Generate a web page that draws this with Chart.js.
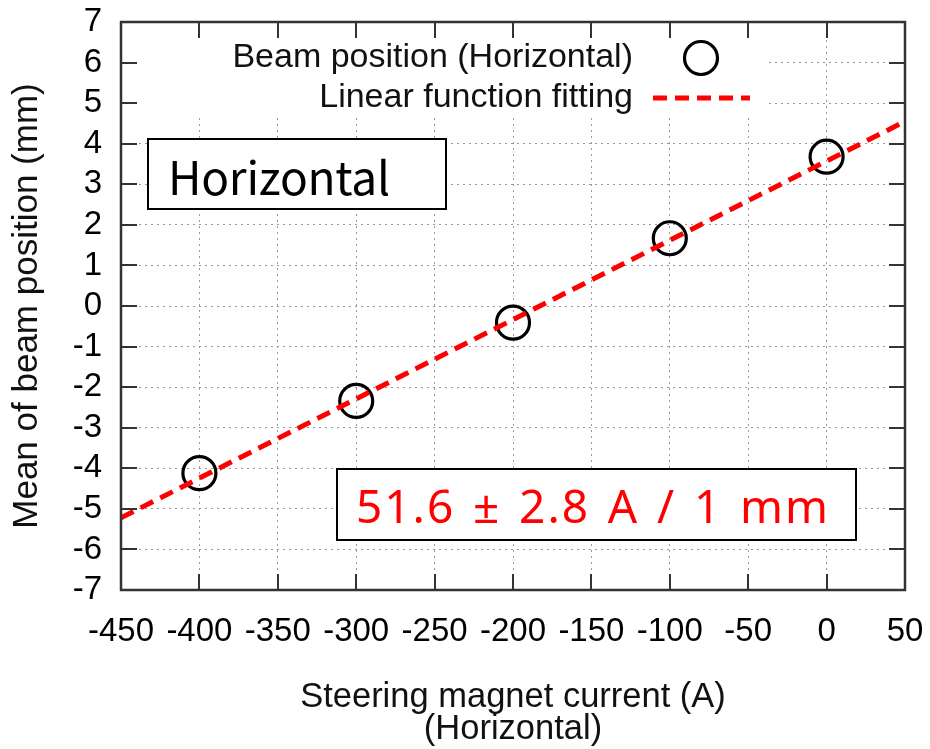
<!DOCTYPE html>
<html>
<head>
<meta charset="utf-8">
<script src="https://cdn.jsdelivr.net/npm/chart.js@4"></script>
<style>
  html, body { margin: 0; padding: 0; background: #fff; }
  #wrap { width: 930px; height: 749px; position: relative; }
</style>
</head>
<body>
<div id="wrap"><canvas id="c" width="930" height="749"></canvas></div>
<script>
// ---- data ----
const currents = [-400, -300, -200, -100, 0];
const positions = [-4.12, -2.34, -0.41, 1.67, 3.68];
const fitCurrents = [-450, 50];
const fitPositions = [-5.22, 4.55];
const xTickValues = [-450, -400, -350, -300, -250, -200, -150, -100, -50, 0, 50];
const yTickValues = [-7, -6, -5, -4, -3, -2, -1, 0, 1, 2, 3, 4, 5, 6, 7];
const seriesLabels = ['Beam position (Horizontal)', 'Linear function fitting'];
const xTitle = ['Steering magnet current (A)', '(Horizontal)'];
const yTitle = 'Mean of beam position (mm)';
const panelLabel = 'Horizontal';
const resultLabel = '51.6 \u00B1 2.8 A / 1 mm';

const FONT = '"Liberation Sans", Arial, sans-serif';
const JFONT = '"Noto Sans CJK JP", "Noto Sans", sans-serif';
const RFONT = '"Noto Sans", "Open Sans", sans-serif';

function fitText(ctx, text, target) {
  ctx.letterSpacing = '0px';
  const w = ctx.measureText(text).width;
  if ('letterSpacing' in ctx && text.length > 1) {
    ctx.letterSpacing = ((target - w) / (text.length - 1)) + 'px';
  }
}

// draws words with wide, evenly distributed word gaps to fill a target width
function spreadWords(ctx, text, x, y, target, innerSpacing) {
  const words = text.split(' ');
  if ('letterSpacing' in ctx) ctx.letterSpacing = innerSpacing + 'px';
  const widths = words.map(w => ctx.measureText(w).width - innerSpacing);
  const total = widths.reduce((s, v) => s + v, 0);
  const gap = (target - total) / (words.length - 1);
  let cx = x;
  words.forEach((w, i) => { ctx.fillText(w, cx, y); cx += widths[i] + gap; });
  if ('letterSpacing' in ctx) ctx.letterSpacing = '0px';
}

function noPad(s) {
  s.paddingTop = 0; s.paddingBottom = 0; s.paddingLeft = 0; s.paddingRight = 0;
}

const gnuplotPlugin = {
  id: 'gnuplotLook',
  beforeDatasetsDraw(chart) {
    const { ctx, chartArea: a } = chart;
    // opaque key area (clears grid under the legend)
    ctx.save();
    ctx.fillStyle = '#fff';
    ctx.fillRect(a.left, a.top, 765 - a.left, 117 - a.top);
    ctx.restore();
  },
  afterDatasetsDraw(chart) {
    const { ctx, chartArea: a, scales } = chart;
    const xs = scales.x, ys = scales.y;
    ctx.save();

    // --- annotation boxes ---
    function box(x, y, w, h) {
      ctx.fillStyle = '#fff';
      ctx.fillRect(x, y, w, h);
      ctx.strokeStyle = '#000';
      ctx.lineWidth = 2;
      ctx.strokeRect(x, y, w, h);
    }
    box(148, 139, 298, 70);
    ctx.fillStyle = '#000';
    ctx.font = '46px ' + JFONT;
    ctx.textAlign = 'left';
    ctx.textBaseline = 'alphabetic';
    fitText(ctx, panelLabel, 222);
    ctx.fillText(panelLabel, 168, 195);
    ctx.letterSpacing = '0px';

    box(337, 469, 519, 71);
    ctx.fillStyle = '#ff0000';
    ctx.font = '46px ' + RFONT;
    spreadWords(ctx, resultLabel, 356, 523, 472, 2);

    // --- legend (gnuplot style: text right-aligned, sample to the right) ---
    const ds = chart.data.datasets;
    ctx.font = '34px ' + FONT;
    ctx.fillStyle = '#111';
    ctx.textAlign = 'right';
    ctx.textBaseline = 'middle';
    ctx.fillText(ds[0].label, 633, 58);
    ctx.fillText(ds[1].label, 633, 98);
    // point sample
    ctx.beginPath();
    ctx.arc(701, 58, ds[0].pointRadius, 0, Math.PI * 2);
    ctx.strokeStyle = ds[0].borderColor;
    ctx.lineWidth = ds[0].pointBorderWidth;
    ctx.stroke();
    // line sample
    ctx.beginPath();
    ctx.setLineDash(ds[1].borderDash);
    ctx.strokeStyle = ds[1].borderColor;
    ctx.lineWidth = ds[1].borderWidth;
    ctx.moveTo(653, 98);
    ctx.lineTo(750, 98);
    ctx.stroke();
    ctx.setLineDash([]);

    // --- frame and inward mirrored ticks ---
    ctx.strokeStyle = '#333';
    ctx.lineWidth = 2.5;
    ctx.strokeRect(a.left, a.top, a.right - a.left, a.bottom - a.top);
    const TL = 16;
    ctx.lineWidth = 2;
    ctx.beginPath();
    xs.ticks.forEach(t => {
      if (t.value === xs.min || t.value === xs.max) return;
      const px = Math.round(xs.getPixelForValue(t.value));
      ctx.moveTo(px, a.top); ctx.lineTo(px, a.top + TL);
      ctx.moveTo(px, a.bottom); ctx.lineTo(px, a.bottom - TL);
    });
    ys.ticks.forEach(t => {
      if (t.value === ys.min || t.value === ys.max) return;
      const py = Math.round(ys.getPixelForValue(t.value));
      ctx.moveTo(a.left, py); ctx.lineTo(a.left + TL, py);
      ctx.moveTo(a.right, py); ctx.lineTo(a.right - TL, py);
    });
    ctx.stroke();
    ctx.restore();
  }
};

new Chart(document.getElementById('c'), {
  type: 'scatter',
  data: {
    datasets: [
      {
        label: seriesLabels[0],
        data: currents.map((c, i) => ({ x: c, y: positions[i] })),
        showLine: false,
        pointStyle: 'circle',
        pointRadius: 16.5,
        pointHoverRadius: 16.5,
        pointBorderWidth: 3.2,
        borderColor: '#000',
        backgroundColor: 'rgba(0,0,0,0)',
        order: 1
      },
      {
        label: seriesLabels[1],
        data: fitCurrents.map((c, i) => ({ x: c, y: fitPositions[i] })),
        showLine: true,
        borderColor: '#ff0000',
        backgroundColor: '#ff0000',
        borderWidth: 5,
        borderDash: [14, 8],
        pointRadius: 0,
        pointHoverRadius: 0,
        order: 0
      }
    ]
  },
  options: {
    responsive: false,
    animation: false,
    events: [],
    layout: { padding: { top: 22, right: 25, left: 0, bottom: 0 } },
    plugins: { legend: { display: false }, tooltip: { enabled: false } },
    scales: {
      x: {
        type: 'linear',
        position: 'bottom',
        min: -450, max: 50,
        afterBuildTicks: s => { s.ticks = xTickValues.map(v => ({ value: v })); },
        afterFit: s => { s.height = 159; noPad(s); },
        ticks: {
          autoSkip: false, maxRotation: 0, minRotation: 0,
          padding: 22, color: '#000',
          font: { family: FONT, size: 33 }
        },
        grid: { color: '#9a9a9a', lineWidth: 1, drawTicks: false },
        border: { display: false, dash: [2, 4] },
        title: {
          display: true, text: xTitle, color: '#111',
          font: { family: FONT, size: 34.5, lineHeight: '32px' },
          padding: { top: 0, bottom: 4 }
        }
      },
      y: {
        type: 'linear',
        position: 'left',
        min: -7, max: 7,
        afterBuildTicks: s => { s.ticks = yTickValues.map(v => ({ value: v })); },
        afterFit: s => { s.width = 121; noPad(s); },
        ticks: {
          autoSkip: false, padding: 19, color: '#000',
          font: { family: FONT, size: 33 }
        },
        grid: { color: '#9a9a9a', lineWidth: 1, drawTicks: false },
        border: { display: false, dash: [2, 4] },
        title: {
          display: true, text: yTitle, color: '#111',
          font: { family: FONT, size: 35, lineHeight: 1 },
          padding: { top: 10, bottom: 0 }
        }
      }
    }
  },
  plugins: [gnuplotPlugin]
});
</script>
</body>
</html>
